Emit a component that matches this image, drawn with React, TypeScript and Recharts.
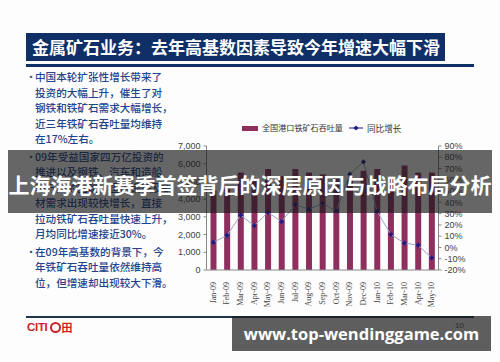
import React from 'react'
import { ComposedChart, Bar, Line, XAxis, YAxis } from 'recharts'

const months = [
  'Jan-09', 'Feb-09', 'Mar-09', 'Apr-09', 'May-09', 'Jun-09', 'Jul-09', 'Aug-09', 'Sep-09',
  'Oct-09', 'Nov-09', 'Dec-09', 'Jan-10', 'Feb-10', 'Mar-10', 'Apr-10', 'May-10',
]
// 全国港口铁矿石吞吐量 (万吨)
const throughput = [4500, 4600, 5500, 5100, 5700, 5300, 5700, 5500, 5400, 5200, 5100, 5600, 5700, 5100, 5900, 5500, 5500]
// 同比增长 (%)
const growth = [4.5, 10.7, 28.6, 19.4, 31, 23, 37.8, 34, 39, 32.4, 65, 76, 32, 11.6, 3.9, 2, -9.2]

const leftTicks = [0, 1000, 2000, 3000, 4000, 5000, 6000, 7000]
const rightTicks = [-20, -10, 0, 10, 20, 30, 40, 50, 60, 70, 80, 90]

const title = '金属矿石业务：去年高基数因素导致今年增速大幅下滑'
const bullets = [
  ['中国本轮扩张性增长带来了', '投资的大幅上升，催生了对', '钢铁和铁矿石需求大幅增长，', '近三年铁矿石吞吐量均维持', '在17%左右。'],
  ['09年受益国家四万亿投资的', '推进以及钢铁、汽车和造船', '等行业的回暖，国内钢铁及钢', '材需求出现较快增长，直接', '拉动铁矿石吞吐量快速上升，', '月均同比增速接近30%。'],
  ['在09年高基数的背景下，今', '年铁矿石吞吐量依然维持高', '位，但增速却出现较大下滑。'],
]
const banner = '上海海港新赛季首签背后的深层原因与战略布局分析'
const watermark = 'www.top-wendinggame.com'

const data = months.map((m, i) => ({ month: m, volume: throughput[i], yoy: growth[i] }))

const barColor = '#8e2f5e'
const navy = '#0f2f66'
const cjk = '"Noto Sans CJK SC", sans-serif'

const MonthTick = (props: any) => {
  const { x, y, payload } = props
  return (
    <text
      x={x}
      y={y + 4}
      transform={`rotate(-90 ${x} ${y + 4})`}
      textAnchor="end"
      dominantBaseline="central"
      fontSize={8}
      fontFamily="Liberation Serif, serif"
      fill="#444"
    >
      {payload.value}
    </text>
  )
}

const Diamond = (props: any) => {
  const { cx, cy } = props
  if (cx == null || cy == null) return null
  const s = 2.6
  return <path d={`M${cx} ${cy - s}L${cx + s} ${cy}L${cx} ${cy + s}L${cx - s} ${cy}Z`} fill="#1c1c86" />
}

export default function App() {
  let lineIdx = 0
  return (
    <div style={{ position: 'fixed', left: 0, top: 0, width: 500, height: 362, background: '#fdfdfd', overflow: 'hidden', fontFamily: cjk }}>
      {/* title bar */}
      <div style={{ position: 'absolute', left: 26, top: 33, width: 419, height: 28, background: navy }} />
      <div style={{ position: 'absolute', left: 32, top: 36, color: '#fff', fontSize: 17, fontWeight: 700, lineHeight: '22px', whiteSpace: 'nowrap' }}>
        {title}
      </div>
      <div style={{ position: 'absolute', left: 26, top: 64, width: 448, height: 3, background: navy }} />

      {/* bullet text */}
      {bullets.map((para, p) =>
        para.map((ln, j) => {
          const top = 69 + lineIdx * 15.5 + p * 2.2
          lineIdx++
          return (
            <div key={`${p}-${j}`} style={{ position: 'absolute', left: 35, top, fontSize: 10.6, fontWeight: 500, lineHeight: '16px', color: '#23438c', whiteSpace: 'nowrap' }}>
              {j === 0 && <span style={{ position: 'absolute', left: -8, top: 0, fontSize: 8, color: '#44557a' }}>▪</span>}
              {ln}
            </div>
          )
        })
      )}

      {/* legend */}
      <div style={{ position: 'absolute', left: 242, top: 126, width: 16, height: 4.5, background: barColor }} />
      <div style={{ position: 'absolute', left: 262, top: 122, fontSize: 8.1, lineHeight: '12px', color: '#333', whiteSpace: 'nowrap' }}>全国港口铁矿石吞吐量</div>
      <svg style={{ position: 'absolute', left: 349, top: 124 }} width={14} height={8}>
        <line x1={0} y1={4} x2={14} y2={4} stroke="#1c1c86" strokeWidth={1} />
        <Diamond cx={7} cy={4} />
      </svg>
      <div style={{ position: 'absolute', left: 367, top: 122, fontSize: 8.6, lineHeight: '12px', color: '#333', whiteSpace: 'nowrap' }}>同比增长</div>

      {/* chart */}
      <div style={{ position: 'absolute', left: 150, top: 120 }}>
        <ComposedChart width={330} height={190} data={data} margin={{ top: 26, right: 0, bottom: 0, left: 0 }}>
          <XAxis
            dataKey="month"
            xAxisId={0}
            interval={0}
            height={40}
            tick={<MonthTick />}
            tickLine={false}
            axisLine={{ stroke: '#888' }}
          />
          <YAxis
            yAxisId="left"
            orientation="left"
            width={56.5}
            domain={[0, 7000]}
            ticks={leftTicks}
            interval={0}
            tickFormatter={(v: number) => v.toLocaleString('en-US')}
            tick={{ fontSize: 9, fill: '#444', fontFamily: 'Liberation Sans, Arial, sans-serif' }}
            tickSize={3}
            tickMargin={3}
            axisLine={{ stroke: '#888' }}
            tickLine={{ stroke: '#888' }}
          />
          <YAxis
            yAxisId="right"
            orientation="right"
            width={41.5}
            domain={[-20, 90]}
            ticks={rightTicks}
            interval={0}
            tickFormatter={(v: number) => `${v}%`}
            tick={{ fontSize: 9, fill: '#444', fontFamily: 'Liberation Sans, Arial, sans-serif' }}
            tickSize={3}
            tickMargin={3}
            axisLine={{ stroke: '#888' }}
            tickLine={{ stroke: '#888' }}
          />
          <Bar yAxisId="left" dataKey="volume" fill={barColor} barSize={6} isAnimationActive={false} />
          <Line
            yAxisId="right"
            dataKey="yoy"
            type="linear"
            stroke="#97a3c4"
            strokeWidth={1}
            dot={<Diamond />}
            activeDot={false}
            isAnimationActive={false}
          />
        </ComposedChart>
      </div>

      {/* footer */}
      <div style={{ position: 'absolute', left: 26, top: 316, width: 448, height: 2, background: '#1f3550' }} />
      <div style={{ position: 'absolute', left: 27, top: 321, display: 'flex', alignItems: 'center', color: '#d0202a', fontFamily: 'Liberation Sans, Arial, sans-serif', fontWeight: 900, fontSize: 11.5, lineHeight: '13px' }}>
        <span style={{ letterSpacing: -0.3 }}>CITI</span>
        <span style={{ display: 'inline-block', width: 11, height: 11, border: '2px solid #d0202a', borderRadius: '50%', boxSizing: 'border-box', marginLeft: 2 }} />
        <span style={{ fontFamily: cjk, fontSize: 11, fontWeight: 700, marginLeft: 1 }}>田</span>
      </div>
      <div style={{ position: 'absolute', left: 455, top: 321, fontSize: 8, color: '#555', fontFamily: 'Liberation Sans, sans-serif' }}>10</div>

      {/* overlay banner */}
      <div style={{ position: 'absolute', left: 8, top: 150, width: 484, height: 63, background: 'rgba(25,25,25,0.66)' }} />
      <div style={{ position: 'absolute', left: 8, top: 169, width: 484, textAlign: 'center', color: '#fff', fontSize: 21, fontWeight: 700, lineHeight: '30px', whiteSpace: 'nowrap' }}>
        {banner}
      </div>

      {/* watermark */}
      <div style={{ position: 'absolute', left: 232, top: 316, width: 259, height: 35, background: 'rgba(25,25,25,0.7)' }} />
      <div style={{ position: 'absolute', left: 232, top: 322, width: 259, textAlign: 'center', color: '#fff', fontFamily: '"Open Sans", sans-serif', fontSize: 16.5, fontWeight: 700, lineHeight: '24px', whiteSpace: 'nowrap' }}>
        {watermark}
      </div>
    </div>
  )
}
